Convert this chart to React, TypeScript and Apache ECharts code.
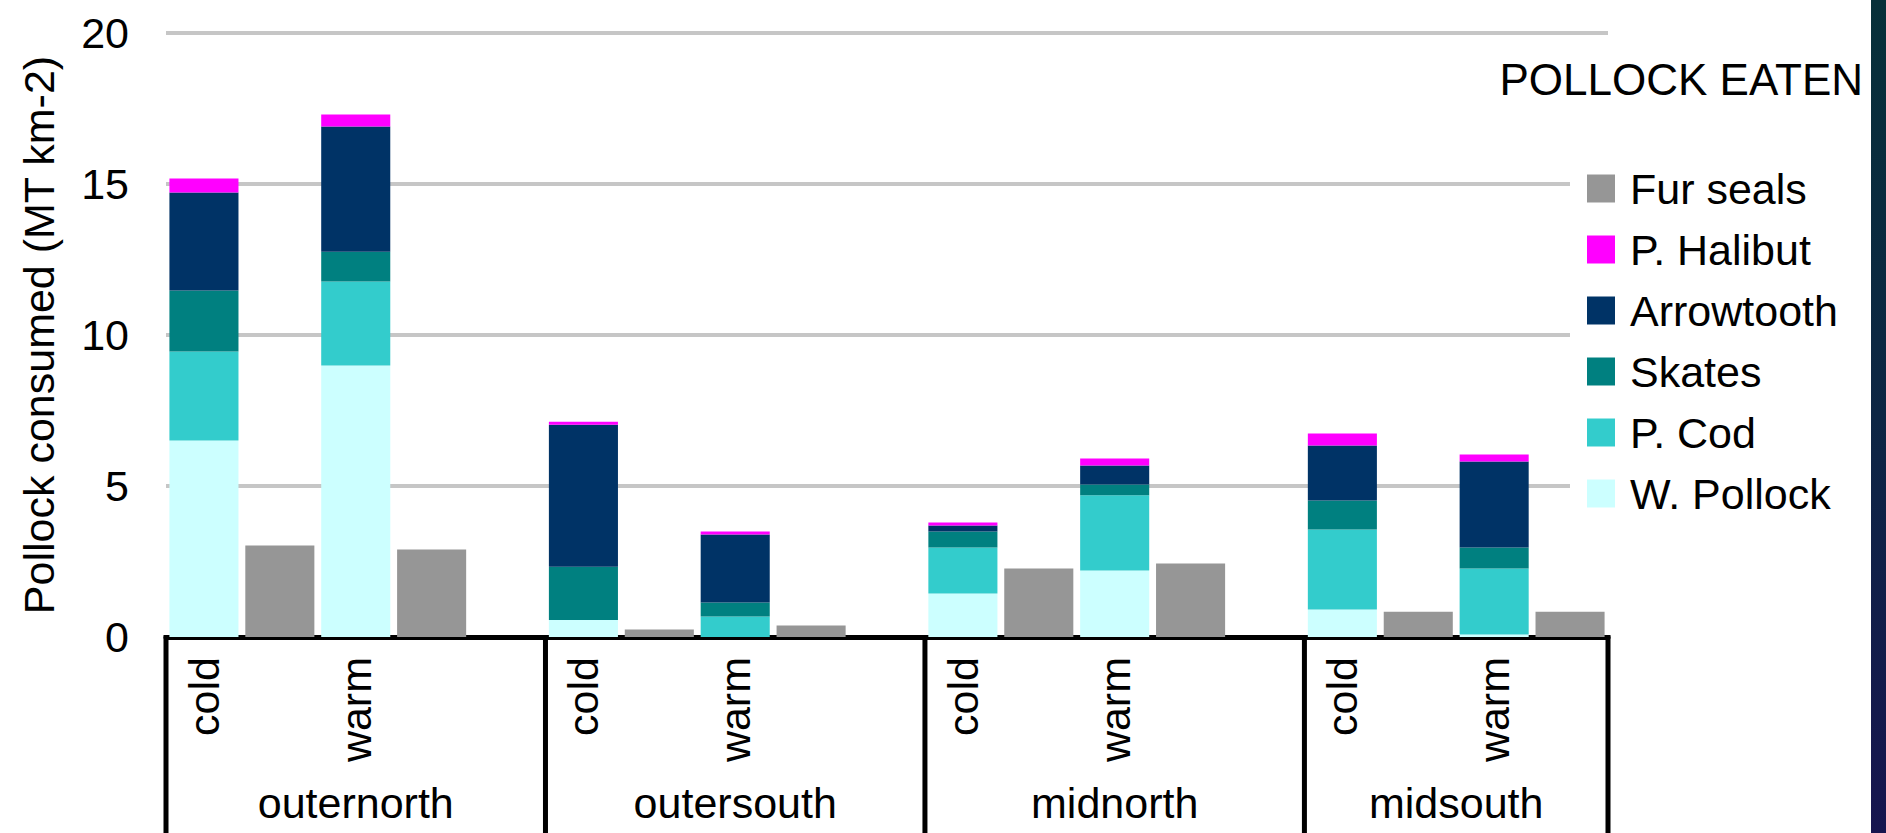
import React, { useEffect, useRef } from "react";
import * as echarts from "echarts";

// ---- data ----
const regions = ["outernorth", "outersouth", "midnorth", "midsouth"];
const conditions = ["cold", "warm"];
// order: outernorth cold, outernorth warm, outersouth cold, outersouth warm,
//        midnorth cold, midnorth warm, midsouth cold, midsouth warm
const wPollock = [6.51, 8.99, 0.56, 0.0, 1.44, 2.2, 0.91, 0.08];
const pCod = [2.94, 2.78, 0.0, 0.68, 1.52, 2.49, 2.65, 2.19];
const skates = [2.02, 0.99, 1.77, 0.46, 0.53, 0.36, 0.96, 0.69];
const arrowtooth = [3.25, 4.14, 4.7, 2.25, 0.2, 0.63, 1.82, 2.85];
const pHalibut = [0.46, 0.4, 0.1, 0.1, 0.1, 0.23, 0.4, 0.23];
const furSeals = [3.03, 2.9, 0.25, 0.38, 2.27, 2.43, 0.84, 0.84];
const yTicks = { min: 0, max: 20, interval: 5 };
const legendOrder = ["Fur seals", "P. Halibut", "Arrowtooth", "Skates", "P. Cod", "W. Pollock"];
const colors: Record<string, string> = {
  "W. Pollock": "#CCFFFF",
  "P. Cod": "#33CCCC",
  Skates: "#008080",
  Arrowtooth: "#003366",
  "P. Halibut": "#FF00FF",
  "Fur seals": "#969696",
};

const FONT = "'Liberation Sans', Arial, Helvetica, sans-serif";

// category slots: per region -> cold, (fur), warm, (fur), (gap)
const xLabels: string[] = [];
const stackSlots: number[] = [];
const furSlots: number[] = [];
const groupRanges: { start: number; end: number }[] = [];
regions.forEach((_, g) => {
  const start = xLabels.length;
  conditions.forEach((c) => {
    stackSlots.push(xLabels.length);
    furSlots.push(xLabels.length + 1);
    xLabels.push(c, "");
  });
  if (g < regions.length - 1) xLabels.push("");
  groupRanges.push({ start, end: xLabels.length });
});

function place(values: number[], slots: number[]) {
  const arr: (number | null)[] = xLabels.map(() => null);
  values.forEach((v, i) => {
    arr[slots[i]] = v;
  });
  return arr;
}

const stackedSeries: [string, number[]][] = [
  ["W. Pollock", wPollock],
  ["P. Cod", pCod],
  ["Skates", skates],
  ["Arrowtooth", arrowtooth],
  ["P. Halibut", pHalibut],
];

export default function App() {
  const ref = useRef<HTMLDivElement>(null);
  useEffect(() => {
    const chart = echarts.init(ref.current!, null, { renderer: "svg" });
    const series: any[] = stackedSeries.map(([name, vals]) => ({
      name,
      type: "bar",
      stack: "total",
      data: place(vals, stackSlots),
      itemStyle: { color: colors[name] },
      barCategoryGap: "9%",
    }));
    series.push({
      name: "Fur seals",
      type: "bar",
      stack: "total",
      data: place(furSeals, furSlots),
      itemStyle: { color: colors["Fur seals"] },
      barCategoryGap: "9%",
    });

    chart.setOption({
      animation: false,
      backgroundColor: "#ffffff",
      textStyle: { fontFamily: FONT },
      grid: { left: 166, right: 278, top: 33, bottom: 196, containLabel: false },
      legend: {
        data: legendOrder,
        orient: "vertical",
        left: 1570,
        top: 150,
        padding: [17, 20, 14, 17],
        backgroundColor: "#ffffff",
        icon: "rect",
        itemWidth: 28,
        itemHeight: 28,
        itemGap: 18,
        selectedMode: false,
        textStyle: {
          fontSize: 43,
          color: "#000",
          fontFamily: FONT,
          padding: [0, 0, 0, 10],
        },
      },
      xAxis: {
        type: "category",
        data: xLabels,
        axisLine: { show: true, lineStyle: { color: "#000", width: 5 } },
        axisTick: { show: false },
        axisLabel: {
          interval: 0,
          rotate: 90,
          margin: 20,
          fontSize: 43,
          color: "#000",
          fontFamily: FONT,
        },
        splitLine: { show: false },
      },
      yAxis: {
        type: "value",
        min: yTicks.min,
        max: yTicks.max,
        interval: yTicks.interval,
        name: "Pollock consumed (MT km-2)",
        nameLocation: "middle",
        nameGap: 106,
        nameTextStyle: { fontSize: 43, color: "#000", fontFamily: FONT },
        axisLine: { show: false },
        axisTick: { show: false },
        axisLabel: { fontSize: 43, color: "#000", margin: 37, fontFamily: FONT },
        splitLine: { show: true, lineStyle: { color: "#c6c6c6", width: 4 } },
      },
      series,
    });

    const px = (i: number) => chart.convertToPixel({ xAxisIndex: 0 }, i) as number;
    const slotW = px(1) - px(0);
    const y0 = chart.convertToPixel({ yAxisIndex: 0 }, 0) as number;
    const H = chart.getHeight();
    const graphic: any[] = [];
    const bounds: number[] = groupRanges.map((r) => px(r.start) - slotW / 2);
    const last = groupRanges[groupRanges.length - 1];
    bounds.push(px(last.end - 1) + slotW / 2);
    bounds.forEach((x) => {
      graphic.push({
        type: "line",
        shape: { x1: x, y1: y0 - 2, x2: x, y2: H },
        style: { stroke: "#000", lineWidth: 5 },
        z: 10,
      });
    });
    groupRanges.forEach((r, g) => {
      const left = px(r.start) - slotW / 2;
      const right = px(r.end - 1) + slotW / 2;
      graphic.push({
        type: "text",
        x: (left + right) / 2,
        y: 803,
        style: {
          text: regions[g],
          textAlign: "center",
          textVerticalAlign: "middle",
          fontSize: 43,
          fontFamily: FONT,
          fill: "#000",
        },
      });
    });
    graphic.push({
      type: "text",
      x: 1863,
      y: 79,
      style: {
        text: "POLLOCK EATEN",
        textAlign: "right",
        textVerticalAlign: "middle",
        fontSize: 44,
        fontFamily: FONT,
        fill: "#000",
      },
    });
    graphic.push({
      type: "rect",
      shape: { x: 1871, y: 0, width: 15, height: H },
      style: {
        fill: {
          type: "linear",
          x: 0,
          y: 0,
          x2: 0,
          y2: 1,
          colorStops: [
            { offset: 0, color: "#073039" },
            { offset: 0.5, color: "#0d2644" },
            { offset: 1, color: "#17154f" },
          ],
        },
      },
    });
    chart.setOption({ graphic });

    return () => chart.dispose();
  }, []);
  return (
    <div
      ref={ref}
      style={{ position: "fixed", left: 0, top: 0, width: 1886, height: 833, background: "#fff" }}
    />
  );
}
